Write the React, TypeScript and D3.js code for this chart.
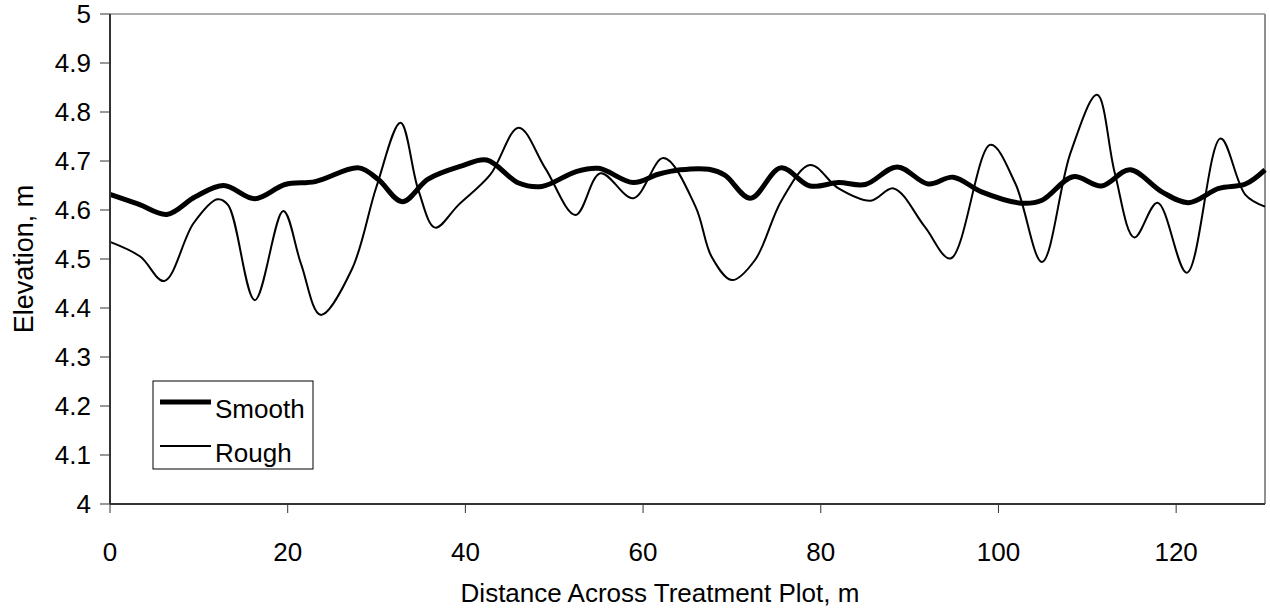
import * as d3 from "d3";

const width = 1270;
const height = 612;
const margin = { top: 14, right: 5, bottom: 108, left: 110 };

// distance across plot (m) and elevation (m)
const smoothX = [0, 3.2, 6.4, 9.6, 12.8, 16.3, 19.7, 23.1, 28.0, 30.2, 32.9, 35.8, 39.6, 42.4, 46.0, 48.6, 52.4, 55.0, 58.9, 61.7, 64.2, 67.4, 69.2, 72.1, 75.5, 78.8, 82.0, 85.0, 88.6, 92.1, 94.9, 98.1, 102.6, 104.9, 108.4, 111.6, 114.8, 118.4, 121.4, 124.8, 127.8, 130];
const smoothY = [4.632, 4.612, 4.591, 4.627, 4.650, 4.623, 4.652, 4.658, 4.686, 4.662, 4.617, 4.663, 4.690, 4.702, 4.655, 4.648, 4.678, 4.685, 4.656, 4.673, 4.682, 4.683, 4.671, 4.624, 4.686, 4.649, 4.656, 4.652, 4.688, 4.653, 4.667, 4.637, 4.614, 4.620, 4.668, 4.649, 4.682, 4.637, 4.615, 4.644, 4.653, 4.682];

const roughX = [0, 3.4, 6.1, 9.4, 12.1, 13.3, 16.3, 19.5, 21.5, 23.7, 27.2, 30.0, 32.7, 34.7, 36.6, 39.2, 42.8, 46.0, 49.0, 52.4, 55.2, 58.9, 62.3, 65.9, 67.7, 70.0, 72.6, 75.6, 78.8, 82.0, 85.6, 88.2, 91.7, 94.6, 99.1, 101.9, 104.9, 108.1, 111.1, 113.1, 115.3, 117.9, 121.2, 125.0, 127.8, 130];
const roughY = [4.535, 4.505, 4.455, 4.573, 4.622, 4.610, 4.416, 4.598, 4.49, 4.386, 4.478, 4.648, 4.778, 4.641, 4.564, 4.610, 4.672, 4.768, 4.685, 4.590, 4.675, 4.624, 4.706, 4.607, 4.505, 4.457, 4.498, 4.620, 4.692, 4.644, 4.619, 4.644, 4.566, 4.501, 4.733, 4.654, 4.494, 4.716, 4.835, 4.675, 4.544, 4.615, 4.472, 4.746, 4.631, 4.607];

const xTicks = [0, 20, 40, 60, 80, 100, 120];
const yTicks = [4, 4.1, 4.2, 4.3, 4.4, 4.5, 4.6, 4.7, 4.8, 4.9, 5];

const seriesNames = ["Smooth", "Rough"];
const seriesWidths = [5, 2];

export default function App() {
  const x = d3.scaleLinear().domain([0, 130]).range([margin.left, width - margin.right]);
  const y = d3.scaleLinear().domain([4, 5]).range([height - margin.bottom, margin.top]);

  const line = d3
    .line<[number, number]>()
    .x((d) => x(d[0]))
    .y((d) => y(d[1]))
    .curve(d3.curveCatmullRom.alpha(0.5));

  const smooth = smoothX.map((v, i) => [v, smoothY[i]] as [number, number]);
  const rough = roughX.map((v, i) => [v, roughY[i]] as [number, number]);

  const font = "'Liberation Sans', Arial, sans-serif";
  const fs = 26;
  const x0 = x(0);
  const x1 = x(130);
  const yTop = y(5);
  const yBot = y(4);

  return (
    <svg
      width={width}
      height={height}
      style={{ position: "absolute", left: 0, top: 0, background: "#fff" }}
      fontFamily={font}
    >
      {/* frame */}
      <line x1={x0} x2={x1} y1={yTop} y2={yTop} stroke="#909090" strokeWidth={1.5} />
      <line x1={x1} x2={x1} y1={yTop} y2={yBot} stroke="#909090" strokeWidth={2} />

      <path d={line(rough) ?? ""} fill="none" stroke="#000" strokeWidth={seriesWidths[1]} />
      <path d={line(smooth) ?? ""} fill="none" stroke="#000" strokeWidth={seriesWidths[0]} />

      {/* y axis */}
      <line x1={x0} x2={x0} y1={yTop} y2={yBot} stroke="#333" strokeWidth={2} />
      {yTicks.map((t) => (
        <g key={t}>
          <line x1={x0 - 10} x2={x0} y1={y(t)} y2={y(t)} stroke="#333" strokeWidth={1} />
          <text x={x0 - 19} y={y(t)} dy="0.36em" textAnchor="end" fontSize={fs}>
            {d3.format("")(t)}
          </text>
        </g>
      ))}

      {/* x axis */}
      <line x1={x0} x2={x1} y1={yBot} y2={yBot} stroke="#333" strokeWidth={2} />
      {xTicks.map((t) => (
        <g key={t}>
          <line x1={x(t)} x2={x(t)} y1={yBot} y2={yBot + 9} stroke="#333" strokeWidth={1} />
          <text x={x(t)} y={561} textAnchor="middle" fontSize={fs}>
            {t}
          </text>
        </g>
      ))}

      <text x={660} y={602} textAnchor="middle" fontSize={fs}>
        Distance Across Treatment Plot, m
      </text>
      <text
        transform={`translate(33, ${(yTop + yBot) / 2}) rotate(-90)`}
        textAnchor="middle"
        fontSize={27}
      >
        Elevation, m
      </text>

      {/* legend */}
      <rect x={153} y={381} width={160} height={88} fill="#fff" stroke="#000" strokeWidth={1} />
      {seriesNames.map((name, i) => (
        <g key={name}>
          <line
            x1={160}
            x2={211}
            y1={402 + i * 44}
            y2={402 + i * 44}
            stroke="#000"
            strokeWidth={i === 0 ? 5 : 2}
          />
          <text x={215} y={418 + i * 44} fontSize={fs}>
            {name}
          </text>
        </g>
      ))}
    </svg>
  );
}
